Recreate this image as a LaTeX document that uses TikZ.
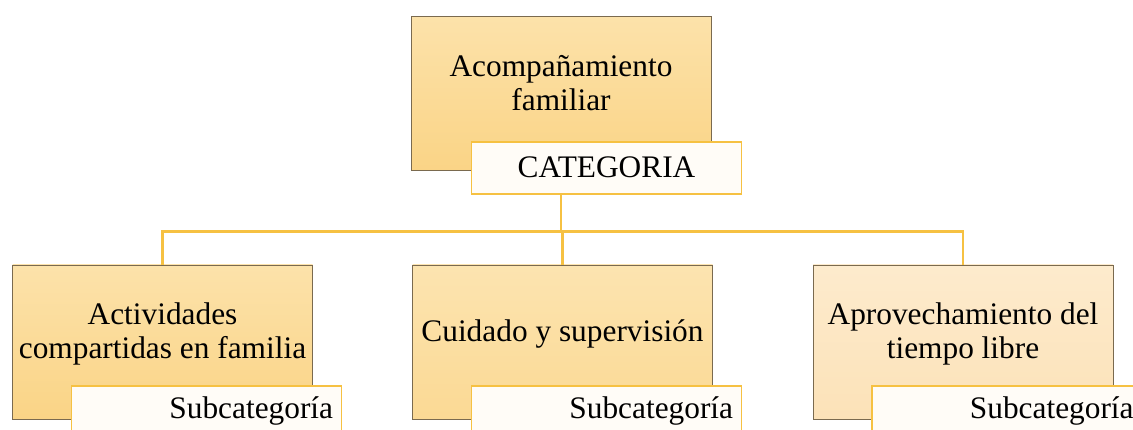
\documentclass[tikz,border=0pt]{standalone}
\usepackage{fontspec}
\setmainfont{Liberation Serif}
\usepackage{tikz}

\definecolor{boxline}{HTML}{7A6A4F}
\definecolor{tagline}{HTML}{F6C142}
\definecolor{tagfill}{HTML}{FFFCF7}
\definecolor{warmtop}{HTML}{FCE2AA}
\definecolor{warmbot}{HTML}{FAD486}
\definecolor{midtop}{HTML}{FCE4B0}
\definecolor{midbot}{HTML}{FBD994}
\definecolor{paletop}{HTML}{FDEBCD}
\definecolor{palebot}{HTML}{FCE2B8}

\tikzset{
    catbox/.style={draw=boxline, line width=0.5pt, minimum width=7.5cm,
        minimum height=3.85cm, inner sep=0pt},
    tagbox/.style={draw=tagline, line width=1.2pt, fill=tagfill,
        minimum width=6.75cm, minimum height=1.3cm, inner sep=0pt,
        anchor=north east},
    txt/.style={align=center, font=\fontsize{22.3}{24}\selectfont, inner sep=0pt},
    link/.style={draw=tagline, line width=1.5pt}
}

\begin{document}
\begin{tikzpicture}
    \clip (0, 0) rectangle (28.325, -10.75);

    % Main category box
    \node[catbox, top color=warmtop, bottom color=warmbot] (top) at (14.025, -2.3375) {};
    \node[txt] (top-t) at ([yshift=0.26cm]top.center) {Acompañamiento\\familiar};

    % Subcategory boxes
    \node[catbox, top color=warmtop, bottom color=warmbot] (act) at (4.0625, -8.55) {};
    \node[catbox, top color=midtop, bottom color=midbot] (cui) at (14.0625, -8.55) {};
    \node[catbox, top color=paletop, bottom color=palebot] (apr) at (24.075, -8.55) {};

    \node[txt] (act-t) at ([yshift=0.2cm]act.center) {Actividades\\compartidas en familia};
    \node[txt] (cui-t) at ([yshift=0.2cm]cui.center) {Cuidado y supervisión};
    \node[txt] (apr-t) at ([yshift=0.2cm]apr.center) {Aprovechamiento del\\tiempo libre};

    % Connectors
    \node[tagbox] (cat) at ([xshift=0.775cm, yshift=0.75cm]top.south east) {};
    \draw[link] (top.south |- cat.south) -- ++(0, -0.925) -| (act.north);
    \draw[link] (top.south |- cat.south) -- ++(0, -0.925) -| (cui.north);
    \draw[link] (top.south |- cat.south) -- ++(0, -0.925) -| (apr.north);

    % Label boxes
    \node[txt] (cat-t) at (cat.center) {CATEGORIA};

    \node[tagbox] (sact) at ([xshift=0.7375cm, yshift=0.85cm]act.south east) {};
    \node[tagbox] (scui) at ([xshift=0.7375cm, yshift=0.85cm]cui.south east) {};
    \node[tagbox] (sapr) at ([xshift=0.7375cm, yshift=0.85cm]apr.south east) {};

    \node[txt, anchor=base east] (sact-t) at ([xshift=-0.225cm, yshift=-0.825cm]sact.north east) {Subcategoría};
    \node[txt, anchor=base east] (scui-t) at ([xshift=-0.225cm, yshift=-0.825cm]scui.north east) {Subcategoría};
    \node[txt, anchor=base east] (sapr-t) at ([xshift=-0.225cm, yshift=-0.825cm]sapr.north east) {Subcategoría};

\end{tikzpicture}
\end{document}
